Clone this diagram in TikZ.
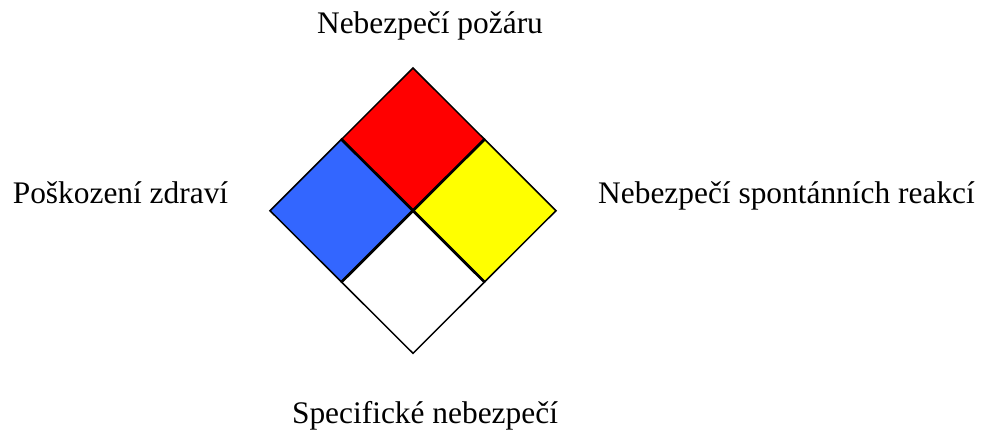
\documentclass[tikz,border=0pt]{standalone}
\usepackage{fontspec}
\setmainfont{Liberation Serif}
\definecolor{nfpared}{HTML}{FF0000}
\definecolor{nfpablue}{HTML}{3366FF}
\definecolor{nfpayellow}{HTML}{FFFF00}
\begin{document}
\begin{tikzpicture}[x=1pt,y=-1pt,
  sq/.style={draw=black,line width=1.5pt,line join=miter},
  lbl/.style={anchor=base,inner sep=0pt,font=\fontsize{31.4}{37}\selectfont}]
\useasboundingbox (0,0) rectangle (986,429);
% vertices
\coordinate (T) at (413,68);
\coordinate (L) at (270,210.7);
\coordinate (R) at (556,210.7);
\coordinate (B) at (413,353.3);
\coordinate (C) at (413,210.7);
\coordinate (TL) at (341.5,139.3);
\coordinate (TR) at (484.5,139.3);
\coordinate (BL) at (341.5,282);
\coordinate (BR) at (484.5,282);
% squares
\filldraw[sq,fill=nfpared] (T) -- (TR) -- (C) -- (TL) -- cycle;
\filldraw[sq,fill=nfpablue] (TL) -- (C) -- (BL) -- (L) -- cycle;
\filldraw[sq,fill=nfpayellow] (TR) -- (R) -- (BR) -- (C) -- cycle;
\filldraw[sq,fill=white] (C) -- (BR) -- (B) -- (BL) -- cycle;
% thicker inner cross
\draw[line width=2.8pt] (TL) -- (BR);
\draw[line width=2.8pt] (TR) -- (BL);
% labels
\node[lbl] (fire) at (430,33) {Nebezpečí požáru};
\node[lbl] (health) at (120.5,203) {Poškození zdraví};
\node[lbl] (react) at (786.5,203) {Nebezpečí spontánních reakcí};
\node[lbl] (spec) at (425,423) {Specifické nebezpečí};
\end{tikzpicture}
\end{document}
